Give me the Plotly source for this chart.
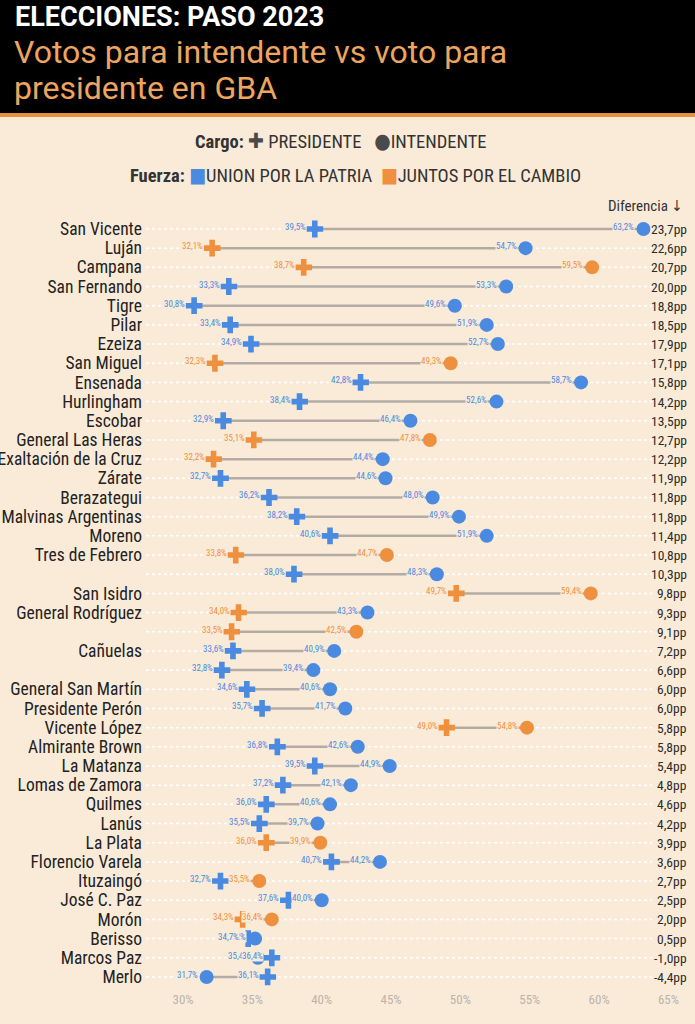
import plotly.graph_objects as go

# Data (PASO 2023, GBA)
municipios = [
    "San Vicente", "Luján", "Campana", "San Fernando", "Tigre", "Pilar", "Ezeiza",
    "San Miguel", "Ensenada", "Hurlingham", "Escobar", "General Las Heras",
    "Exaltación de la Cruz", "Zárate", "Berazategui", "Malvinas Argentinas", "Moreno",
    "Tres de Febrero", "", "San Isidro", "General Rodríguez", "", "Cañuelas", "",
    "General San Martín", "Presidente Perón", "Vicente López", "Almirante Brown",
    "La Matanza", "Lomas de Zamora", "Quilmes", "Lanús", "La Plata", "Florencio Varela",
    "Ituzaingó", "José C. Paz", "Morón", "Berisso", "Marcos Paz", "Merlo",
]
voto_presidente = [
    39.5, 32.1, 38.7, 33.3, 30.8, 33.4, 34.9, 32.3, 42.8, 38.4, 32.9, 35.1,
    32.2, 32.7, 36.2, 38.2, 40.6, 33.8, 38.0, 49.7, 34.0, 33.5, 33.6, 32.8,
    34.6, 35.7, 49.0, 36.8, 39.5, 37.2, 36.0, 35.5, 36.0, 40.7, 32.7, 37.6,
    34.3, 34.7, 36.4, 36.1,
]
voto_intendente = [
    63.2, 54.7, 59.5, 53.3, 49.6, 51.9, 52.7, 49.3, 58.7, 52.6, 46.4, 47.8,
    44.4, 44.6, 48.0, 49.9, 51.9, 44.7, 48.3, 59.4, 43.3, 42.5, 40.9, 39.4,
    40.6, 41.7, 54.8, 42.6, 44.9, 42.1, 40.6, 39.7, 39.9, 44.2, 35.5, 40.0,
    36.4, 35.2, 35.4, 31.7,
]
diferencia = [
    23.7, 22.6, 20.7, 20.0, 18.8, 18.5, 17.9, 17.1, 15.8, 14.2, 13.5, 12.7,
    12.2, 11.9, 11.8, 11.8, 11.4, 10.8, 10.3, 9.8, 9.3, 9.1, 7.2, 6.6,
    6.0, 6.0, 5.8, 5.8, 5.4, 4.8, 4.6, 4.2, 3.9, 3.6, 2.7, 2.5,
    2.0, 0.5, -1.0, -4.4,
]
# fuerza of each marker: "UP" = Union por la Patria, "JxC" = Juntos por el Cambio
fuerza_presidente = [
    "UP", "JxC", "JxC", "UP", "UP", "UP", "UP", "JxC", "UP", "UP", "UP", "JxC",
    "JxC", "UP", "UP", "UP", "UP", "JxC", "UP", "JxC", "JxC", "JxC", "UP", "UP",
    "UP", "UP", "JxC", "UP", "UP", "UP", "UP", "UP", "JxC", "UP", "UP", "UP",
    "JxC", "UP", "UP", "UP",
]
fuerza_intendente = [
    "UP", "UP", "JxC", "UP", "UP", "UP", "UP", "JxC", "UP", "UP", "UP", "JxC",
    "UP", "UP", "UP", "UP", "UP", "JxC", "UP", "JxC", "UP", "JxC", "UP", "UP",
    "UP", "UP", "JxC", "UP", "UP", "UP", "UP", "UP", "JxC", "UP", "JxC", "UP",
    "JxC", "UP", "UP", "UP",
]
ticks_x = [30, 35, 40, 45, 50, 55, 60, 65]

# Style
BG = "#faebd9"
BLUE = "#4a8ae0"
ORANGE = "#ef903e"
LINE_GRAY = "#b3aca5"
TEXT = "#2b2b2b"
COND = "Roboto Condensed, Liberation Sans Narrow, DejaVu Sans Condensed, sans-serif"
color_map = {"UP": BLUE, "JxC": ORANGE}

W, H = 695, 1024
L, R, T, B = 146, 3, 210, 34


def px_x(p):
    return (p - L) / (W - L - R)


def px_y(p):
    return (H - B - p) / (H - T - B)


def fmt(v):
    return f"{v:.1f}".replace(".", ",")


rows = list(range(len(municipios)))
col_p = [color_map[f] for f in fuerza_presidente]
col_i = [color_map[f] for f in fuerza_intendente]

fig = go.Figure()

# gray connector lines
lx, ly = [], []
for r, p, i in zip(rows, voto_presidente, voto_intendente):
    lx += [p, i, None]
    ly += [r, r, None]
fig.add_trace(go.Scatter(x=lx, y=ly, mode="lines",
                         line=dict(color=LINE_GRAY, width=2.5),
                         hoverinfo="skip", showlegend=False))

fig.add_trace(go.Scatter(x=voto_intendente, y=rows, mode="markers",
                         marker=dict(symbol="circle", size=14, color=col_i, line=dict(width=0)),
                         name="INTENDENTE", showlegend=False))
fig.add_trace(go.Scatter(x=voto_presidente, y=rows, mode="markers",
                         marker=dict(symbol="cross", size=14, color=col_p, line=dict(width=0)),
                         name="PRESIDENTE", showlegend=False))

shapes = []
annotations = []

# dotted row guides
for r in rows:
    shapes.append(dict(type="line", xref="paper", yref="y", x0=0, x1=px_x(652), y0=r, y1=r,
                       line=dict(color="white", width=1.5, dash="dot"), layer="below"))

# value labels (left of each marker) and difference column
for r in rows:
    # intendente first so the presidente label sits on top when they collide
    for v, c in ((voto_intendente[r], col_i[r]), (voto_presidente[r], col_p[r])):
        annotations.append(dict(x=v, y=r, xref="x", yref="y", text=fmt(v) + "%",
                                showarrow=False, xanchor="right", yanchor="middle",
                                xshift=-8, yshift=2, bgcolor=BG, borderpad=0,
                                font=dict(family=COND, size=9, color=c)))
    annotations.append(dict(x=px_x(689), y=r, xref="paper", yref="y",
                            text=fmt(diferencia[r]) + "pp", showarrow=False,
                            xanchor="right", yanchor="middle",
                            font=dict(family=COND, size=13.5, color=TEXT)))

# header band
shapes.append(dict(type="rect", xref="paper", yref="paper", x0=px_x(0), x1=px_x(W),
                   y0=px_y(113), y1=px_y(0), fillcolor="black", line=dict(width=0), layer="below"))
shapes.append(dict(type="rect", xref="paper", yref="paper", x0=px_x(0), x1=px_x(W),
                   y0=px_y(117), y1=px_y(113), fillcolor="#e8913d", line=dict(width=0), layer="below"))

annotations += [
    dict(x=px_x(13), y=px_y(17), xref="paper", yref="paper", xanchor="left", yanchor="middle",
         showarrow=False, text="<b>ELECCIONES: PASO 2023</b>",
         font=dict(family="Roboto", size=27, color="white")),
    dict(x=px_x(12), y=px_y(52), xref="paper", yref="paper", xanchor="left", yanchor="middle",
         showarrow=False, text="Votos para intendente vs voto para",
         font=dict(family="Roboto", size=32, color="#eda560")),
    dict(x=px_x(12), y=px_y(88), xref="paper", yref="paper", xanchor="left", yanchor="middle",
         showarrow=False, text="presidente en GBA",
         font=dict(family="Roboto", size=32, color="#eda560")),
    dict(x=px_x(193), y=px_y(141), xref="paper", yref="paper", xanchor="left", yanchor="middle",
         showarrow=False,
         text="<b>Cargo:</b> <span style='color:#4a4a4a;font-size:21px'>✚</span> PRESIDENTE   "
              "<span style='color:#4a4a4a;font-size:21px'>●</span>INTENDENTE",
         font=dict(family=COND, size=18.5, color="#333333")),
    dict(x=px_x(355), y=px_y(175), xref="paper", yref="paper", xanchor="center", yanchor="middle",
         showarrow=False,
         text=f"<b>Fuerza:</b> <span style='color:{BLUE};font-size:20px'>■</span>UNION POR LA PATRIA  "
              f"<span style='color:{ORANGE};font-size:20px'>■</span>JUNTOS POR EL CAMBIO",
         font=dict(family=COND, size=18.5, color="#333333")),
    dict(x=px_x(685), y=px_y(206), xref="paper", yref="paper", xanchor="right", yanchor="middle",
         showarrow=False, text="Diferencia ↓",
         font=dict(family=COND, size=15, color="#333333")),
]

fig.update_layout(
    width=W, height=H,
    margin=dict(l=L, r=R, t=T, b=B),
    paper_bgcolor=BG, plot_bgcolor=BG,
    shapes=shapes, annotations=annotations,
    showlegend=False,
    xaxis=dict(range=[27.33, 66.7], tickvals=ticks_x, ticktext=[f"{t}%" for t in ticks_x],
               showgrid=False, zeroline=False, showline=False, automargin=False,
               tickfont=dict(family=COND, size=13, color="#bcb3aa")),
    yaxis=dict(range=[39.68, -0.99], tickvals=rows, ticktext=municipios,
               showgrid=False, zeroline=False, showline=False, ticks="",
               ticklabelstandoff=3, automargin=False,
               tickfont=dict(family=COND, size=17.5, color="#222222")),
)

# drop the default page margin so the chart sits at the window corner
fig.write_html("out.html", config={"displayModeBar": False},
               post_script="document.body.style.margin='0';")
